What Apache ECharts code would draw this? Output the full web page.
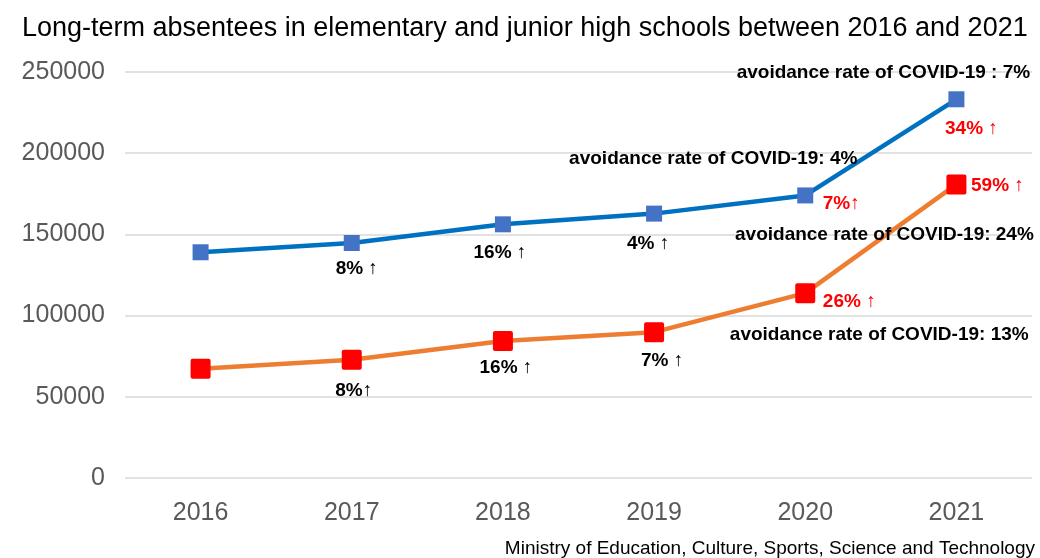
<!DOCTYPE html>
<html>
<head>
<meta charset="utf-8">
<script src="https://cdn.jsdelivr.net/npm/echarts@6/dist/echarts.min.js"></script>
<style>
html,body{margin:0;padding:0;background:#fff;}
#chart{width:1040px;height:558px;}
</style>
</head>
<body>
<div id="chart"></div>
<script>
const titleText = 'Long-term absentees in elementary and junior high schools between 2016 and 2021';
const sourceText = 'Ministry of Education, Culture, Sports, Science and Technology';
const years = ['2016', '2017', '2018', '2019', '2020', '2021'];
const blueValues = [139000, 144700, 156200, 162800, 174000, 233200];
const orangeValues = [67300, 72800, 84300, 89800, 113800, 180800];
const blueChange = ['', '8% ↑', '16% ↑', '4% ↑', '7%↑', '34% ↑'];
const orangeChange = ['', '8%↑', '16% ↑', '7% ↑', '26% ↑', '59% ↑'];
const blueAvoid = ['', '', '', '', 'avoidance rate of COVID-19: 4%', 'avoidance rate of COVID-19 : 7%'];
const orangeAvoid = ['', '', '', '', 'avoidance rate of COVID-19: 13%', 'avoidance rate of COVID-19: 24%'];
const yTicks = [0, 50000, 100000, 150000, 200000, 250000];

const FONT = '"Liberation Sans", Arial, sans-serif';
const blueChangeOffset = [[0,0],[5,26],[-3,28],[-6,30],[36,8],[15,29]];
const orangeChangeOffset = [[0,0],[2,31],[3,27],[8,29],[44,9],[41,1]];
const blueAvoidOffset = [[0,0],[0,0],[0,0],[0,0],[-92,-37],[-73,-27]];
const orangeAvoidOffset = [[0,0],[0,0],[0,0],[0,0],[74,42],[-72,50]];
const SQUARE = 'path://M2,0 H18 A2,2 0 0 1 20,2 V18 A2,2 0 0 1 18,20 H2 A2,2 0 0 1 0,18 V2 A2,2 0 0 1 2,0 Z';

function marks(values, texts, offsets, colorFn) {
  const out = [];
  texts.forEach((t, i) => {
    if (!t) return;
    out.push({
      coord: [years[i], values[i]],
      symbol: 'rect', symbolSize: 0,
      label: {
        show: true, position: 'inside', formatter: t,
        offset: offsets[i], color: colorFn(i),
        fontFamily: FONT, fontWeight: 'bold', fontSize: 19
      }
    });
  });
  return out;
}

const chart = echarts.init(document.getElementById('chart'), null, {renderer: 'canvas'});
chart.setOption({
  animation: false,
  backgroundColor: '#fff',
  title: [{
    text: titleText, left: 17, top: 10,
    textStyle: {fontFamily: FONT, fontWeight: 'normal', fontSize: 27, color: '#000'}
  }, {
    text: sourceText, right: 5, bottom: 0, padding: 0,
    textStyle: {fontFamily: FONT, fontWeight: 'normal', fontSize: 19, color: '#000'}
  }],
  grid: {left: 125, right: 8, top: 72, bottom: 80, containLabel: false},
  xAxis: {
    type: 'category', data: years, boundaryGap: true,
    axisLine: {show: false}, axisTick: {show: false},
    axisLabel: {fontFamily: FONT, fontSize: 25, color: '#595959', margin: 23}
  },
  yAxis: {
    type: 'value', min: yTicks[0], max: yTicks[yTicks.length - 1], interval: 50000,
    axisLine: {show: false}, axisTick: {show: false},
    splitLine: {lineStyle: {color: '#D9D9D9', width: 1.5}},
    axisLabel: {fontFamily: FONT, fontSize: 25, color: '#595959', margin: 20,
      formatter: v => String(v)}
  },
  series: [{
    type: 'line', data: blueValues,
    symbol: 'rect', symbolSize: 16,
    lineStyle: {color: '#0070C0', width: 4.5},
    itemStyle: {color: '#4472C4'},
    markPoint: {
      silent: true,
      data: marks(blueValues, blueChange, blueChangeOffset, i => i >= 4 ? '#FF0000' : '#000')
        .concat(marks(blueValues, blueAvoid, blueAvoidOffset, () => '#000'))
    },
    z: 3
  }, {
    type: 'line', data: orangeValues,
    symbol: SQUARE, symbolSize: 20,
    lineStyle: {color: '#ED7D31', width: 4.5},
    itemStyle: {color: '#FF0000'},
    markPoint: {
      silent: true,
      data: marks(orangeValues, orangeChange, orangeChangeOffset, i => i >= 4 ? '#FF0000' : '#000')
        .concat(marks(orangeValues, orangeAvoid, orangeAvoidOffset, () => '#000'))
    },
    z: 2
  }]
});
</script>
</body>
</html>
